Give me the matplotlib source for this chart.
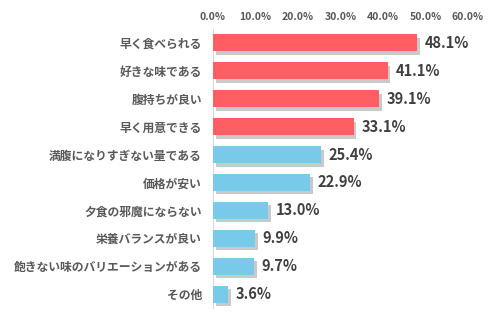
import matplotlib
matplotlib.use("Agg")
import matplotlib.pyplot as plt
import matplotlib.patheffects as pe

plt.rcParams['font.family'] = ['Noto Sans CJK JP', 'DejaVu Sans']

categories = ["早く食べられる", "好きな味である", "腹持ちが良い", "早く用意できる",
              "満腹になりすぎない量である", "価格が安い", "夕食の邪魔にならない",
              "栄養バランスが良い", "飽きない味のバリエーションがある", "その他"]
values = [48.1, 41.1, 39.1, 33.1, 25.4, 22.9, 13.0, 9.9, 9.7, 3.6]
highlight_count = 4
tick_values = [0, 10, 20, 30, 40, 50, 60]
tick_labels = ["0.0%", "10.0%", "20.0%", "30.0%", "40.0%", "50.0%", "60.0%"]

red = "#FF5F62"
blue = "#78C9EA"
colors = [red if i < highlight_count else blue for i in range(len(values))]

fig = plt.figure(figsize=(5, 3.28), dpi=100)
ax = fig.add_axes([213/500, 20/328, 255/500, 279/328])

ypos = list(range(len(values)))
bars = ax.barh(ypos, values, height=0.61, color=colors, zorder=3)
for b in bars:
    b.set_path_effects([pe.SimplePatchShadow(offset=(2, -2.5), shadow_rgbFace="#888888", alpha=0.45),
                        pe.Normal()])

for y, v in zip(ypos, values):
    ax.text(v + 1.8, y, f"{v:.1f}%", va="center", ha="left", fontsize=10.5,
            fontweight="bold", color="#404040")

ax.set_xlim(0, 60)
ax.set_ylim(len(values) - 0.5, -0.5)
ax.set_xticks(tick_values)
ax.set_xticklabels(tick_labels)
ax.xaxis.tick_top()
ax.tick_params(axis='x', length=0, labelsize=7.5, labelcolor="#595959", pad=5)
for t in ax.get_xticklabels():
    t.set_fontweight("bold")
ax.set_yticks(ypos)
ax.set_yticklabels(categories)
ax.tick_params(axis='y', length=0, labelsize=8.5, labelcolor="#595959", pad=8)
for t in ax.get_yticklabels():
    t.set_fontweight("bold")

for s in ["top", "right", "bottom"]:
    ax.spines[s].set_visible(False)
ax.spines["left"].set_color("#D9D9D9")
ax.spines["left"].set_linewidth(0.8)

fig.savefig("out.png", dpi=100, facecolor="white")
